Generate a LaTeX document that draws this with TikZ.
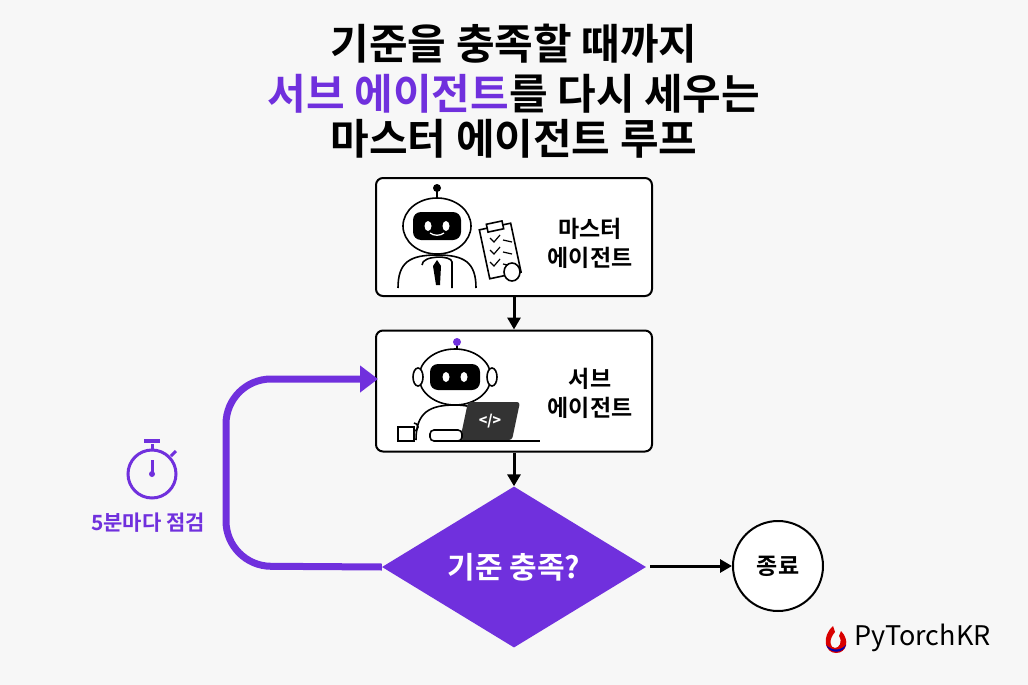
\documentclass[tikz,border=0pt]{standalone}
\usepackage{fontspec}
\setmainfont{Noto Sans CJK KR}
\newfontfamily\kb{Noto Sans CJK KR Bold}
\usetikzlibrary{shapes.geometric,arrows.meta}
\definecolor{pur}{HTML}{7030DD}
\definecolor{bg}{HTML}{F7F7F7}
\begin{document}
\begin{tikzpicture}[x=1pt,y=-1pt,
  box/.style={draw=black,line width=2pt,rounded corners=7pt,fill=white},
  lbl/.style={font=\kb\fontsize{23}{29}\selectfont,align=center},
  arr/.style={-{Triangle[length=12pt,width=13pt]},line width=3pt},
  title/.style={font=\kb\fontsize{42}{46}\selectfont}]
\fill[bg] (0,0) rectangle (1028,685);
\useasboundingbox (0,0) rectangle (1028,685);
% title
\node[title] (t1) at (514,44) {기준을 충족할 때까지};
\node[title] (t2) at (514,94) {\textcolor{pur}{서브 에이전트}를 다시 세우는};
\node[title] (t3) at (514,139) {마스터 에이전트 루프};
% boxes
\node[box,minimum width=276pt,minimum height=118pt] (m) at (514,237) {};
\node[lbl] (ml) at (590,243) {마스터\\에이전트};
\node[box,minimum width=276pt,minimum height=121pt] (s) at (514,391) {};
\node[lbl] (sl) at (590,393) {서브\\에이전트};
% robot 1
\begin{scope}[line width=1.6pt]
\draw (437,188) -- (437,200); \fill (437,188) circle (4);
\draw[rounded corners=3pt] (452,288) -- (452,265) .. controls (452,255) and (422,255) .. (422,265);
\draw (398,288) .. controls (398,262) and (410,255) .. (437,255) .. controls (464,255) and (476,262) .. (476,288);
\draw[fill=white] (437,226) ellipse (34 and 28);
\fill[rounded corners=8pt] (413,212) rectangle (461,240);
\fill[white] (428,226) ellipse (3.5 and 5); \fill[white] (446,226) ellipse (3.5 and 5);
\draw[white,line width=1.3pt] (430,233) .. controls (434,236) and (440,236) .. (444,233);
\fill (437,260) -- (433,266) -- (436,285) -- (440,285) -- (441,266) -- cycle;
\draw[fill=white,rotate around={12:(500,250)}] (484,226) rectangle (516,276);
\draw[fill=white,rotate around={12:(500,250)}] (492,222) rectangle (508,230);
\foreach \yy in {238,250,262}{\draw[line width=1.2pt] (490,\yy) -- (494,\yy+4) -- (500,\yy-3); \draw[line width=1.2pt] (503,\yy+2) -- (512,\yy+4);}
\draw[fill=white] (512,272) ellipse (8 and 9);
\end{scope}
% robot 2
\begin{scope}[line width=1.6pt]
\draw (457,343) -- (457,352); \fill[pur] (457,342) circle (4);
\draw (416,440) .. controls (416,412) and (430,405) .. (455,405) .. controls (475,405) and (485,412) .. (488,425);
\draw[fill=white] (455,377) ellipse (36 and 28);
\fill[rounded corners=8pt] (430,364) rectangle (480,390);
\fill[white] (446,377) ellipse (3.5 and 5); \fill[white] (464,377) ellipse (3.5 and 5);
\draw[fill=white] (418,377) ellipse (5 and 9); \draw[fill=white] (492,377) ellipse (5 and 9);
\fill[rounded corners=3pt,fill=black!80] (468,402) -- (520,402) -- (512,440) -- (460,440) -- cycle;
\node[text=white,font=\bfseries\fontsize{14}{14}\selectfont] (code) at (490,421) {</>};
\draw (440,441) -- (540,441);
\draw[fill=white] (398,427) rectangle (414,441); \draw (414,431) arc (90:-90:4);
\draw[fill=white,rounded corners=4pt] (430,430) rectangle (462,441);
\end{scope}
% diamond
\node[diamond,fill=pur,minimum width=264pt,minimum height=161pt,inner sep=0pt] (d) at (514,567) {};
\node[font=\kb\fontsize{30}{32}\selectfont,text=white] (dl) at (514,567) {기준 충족?};
\node[circle,draw,line width=2pt,fill=white,minimum size=90pt] (e) at (778,566) {};
\node[lbl] (el) at (778,566) {종료};
% arrows
\draw[arr] (m.south) -- (s.north);
\draw[arr] (s.south) -- (d.north);
\coordinate (a0) at (650,566);
\draw[arr] (a0) -- (e.west);
\coordinate (lp) at (378,379);
\draw[pur,line width=7pt,-{Triangle[length=18pt,width=26pt]},rounded corners=45pt] (d.west) -- (226,566) -- (226,379) -- (lp);
% stopwatch
\begin{scope}[pur,line width=3pt]
\draw (152,474) circle (24);
\draw (152,450) -- (152,444); \draw[line width=3.5pt] (144,441) -- (160,441);
\draw (171,456) -- (176,451);
\draw (152,474) -- (152,460); \fill (152,474) circle (3);
\end{scope}
\node[text=pur,font=\kb\fontsize{21}{24}\selectfont] (w) at (148,523) {5분마다 점검};
% logo
\fill[red!85!black] (833,626) .. controls (821,637) and (825,653) .. (836,653) .. controls (847,653) and (850,640) .. (841,631) -- (839,636) .. controls (843,642) and (839,648) .. (835,648) .. controls (830,648) and (828,640) .. (835,632) -- cycle;
\fill[blue!70!black] (826,645) .. controls (830,654) and (843,654) .. (846,645) .. controls (840,651) and (832,651) .. cycle;
\node[font=\fontsize{27}{29}\selectfont,anchor=west] (logo) at (851,638) {PyTorchKR};
\end{tikzpicture}
\end{document}
